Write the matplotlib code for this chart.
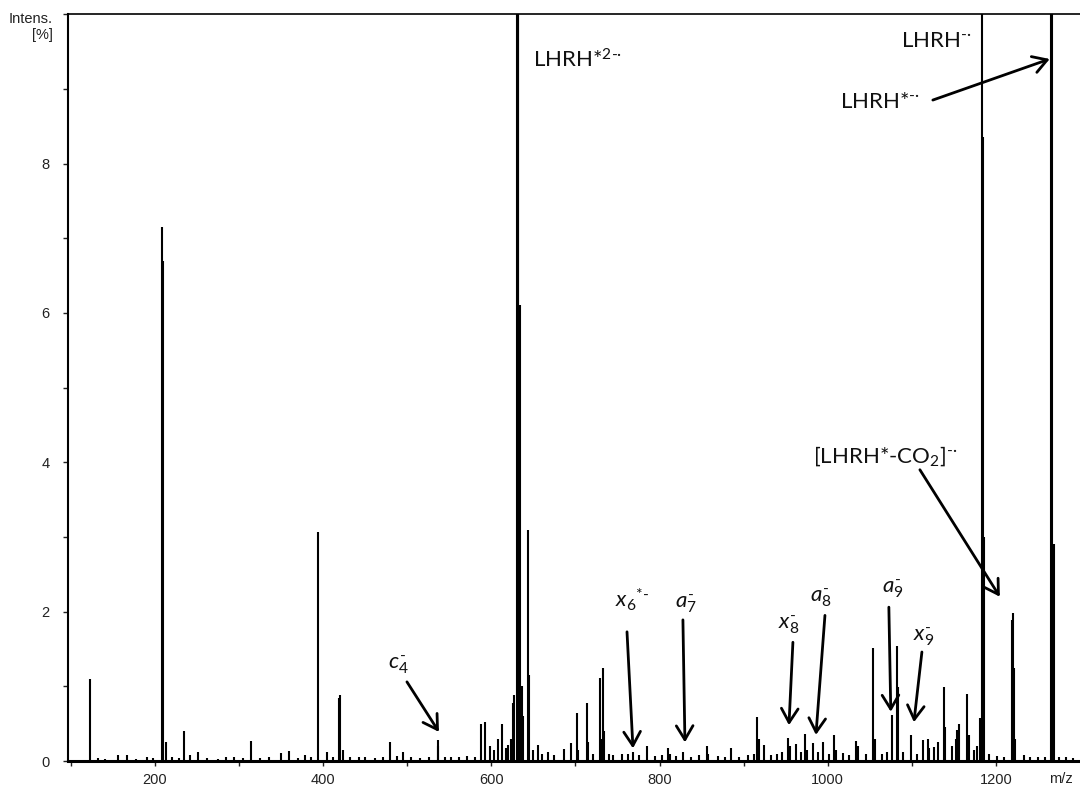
import matplotlib
matplotlib.use("Agg")
import matplotlib.pyplot as plt
from matplotlib.ticker import FixedLocator

plt.rcParams['font.family'] = ['Liberation Sans', 'DejaVu Sans']
plt.rcParams['mathtext.fontset'] = 'custom'
plt.rcParams['mathtext.rm'] = 'Lato'
plt.rcParams['mathtext.it'] = 'Lato:italic'
plt.rcParams['mathtext.sf'] = 'Lato'

# peak list: m/z and relative intensity [%]
mz = [123, 132, 141, 156, 167, 178, 190, 198, 208, 209, 212.5, 220, 228, 235, 242, 251.5,
      262, 275, 285, 294.5, 305, 314, 325, 336, 350, 359, 370, 378.5, 386, 393.6, 405,
      412, 419, 420.5, 423, 432, 443, 450, 462, 471, 480, 488, 495, 505, 515, 526, 536,
      537, 545, 552, 562, 571, 580, 588, 592, 598, 603, 608, 613, 617, 620, 623, 626,
      627.5, 631, 631.5, 632, 634.5, 636, 638, 643.5, 644.5, 650, 655, 660, 667, 675,
      686, 694.5, 702, 703, 713.5, 714.5, 721, 729, 730, 733, 734, 740, 745, 755, 762,
      768, 775, 785, 795, 803, 810, 812, 820, 828, 838, 847, 856, 858, 870, 878, 885,
      895, 905, 912, 916, 918, 924, 932, 940, 946, 953, 955, 962, 968, 973, 975, 983,
      988, 994, 1001, 1008, 1010, 1018, 1025, 1034, 1036, 1045, 1054, 1056, 1065, 1070,
      1076, 1082, 1084, 1090, 1099, 1106, 1113, 1119, 1121, 1126, 1131, 1138, 1140,
      1148, 1152, 1154, 1156, 1166, 1168, 1174, 1178, 1181, 1184, 1185, 1186, 1192,
      1201, 1210, 1219, 1220, 1222, 1223, 1234, 1240, 1250, 1258, 1266, 1267, 1269,
      1275, 1283, 1292]
intens = [1.1, 0.04, 0.03, 0.08, 0.08, 0.03, 0.05, 0.04, 7.15, 6.7, 0.25, 0.05, 0.04, 0.4, 0.08, 0.12,
          0.04, 0.03, 0.05, 0.05, 0.04, 0.27, 0.04, 0.05, 0.11, 0.13, 0.04, 0.08, 0.06, 3.07, 0.12,
          0.05, 0.85, 0.88, 0.15, 0.05, 0.06, 0.06, 0.04, 0.05, 0.25, 0.07, 0.12, 0.05, 0.04, 0.05, 0.2,
          0.28, 0.06, 0.05, 0.05, 0.07, 0.06, 0.5, 0.52, 0.2, 0.15, 0.3, 0.5, 0.18, 0.22, 0.3, 0.78,
          0.88, 100.0, 60.0, 20.0, 6.1, 1.0, 0.6, 3.1, 1.15, 0.15, 0.22, 0.1, 0.12, 0.08,
          0.16, 0.24, 0.64, 0.15, 0.78, 0.25, 0.1, 1.11, 0.3, 1.25, 0.4, 0.1, 0.08, 0.1, 0.09,
          0.12, 0.08, 0.2, 0.07, 0.08, 0.18, 0.1, 0.07, 0.12, 0.06, 0.08, 0.2, 0.1, 0.07, 0.06, 0.17,
          0.06, 0.08, 0.1, 0.59, 0.3, 0.22, 0.08, 0.1, 0.12, 0.31, 0.2, 0.23, 0.12, 0.36, 0.15, 0.24,
          0.12, 0.26, 0.1, 0.35, 0.15, 0.11, 0.08, 0.27, 0.2, 0.1, 1.52, 0.3, 0.1, 0.12,
          0.61, 1.54, 0.99, 0.12, 0.35, 0.1, 0.28, 0.3, 0.17, 0.19, 0.25, 0.99, 0.45,
          0.2, 0.3, 0.41, 0.5, 0.9, 0.35, 0.15, 0.2, 0.58, 60.0, 8.35, 3.0, 0.1,
          0.07, 0.06, 1.89, 1.98, 1.25, 0.3, 0.08, 0.05, 0.06, 0.05, 45.0, 25.0, 2.9,
          0.06, 0.05, 0.04]

# annotations: label, text anchor (left, baseline), arrow tail, arrow head
labels = [r"LHRH*$^{\text{2-·}}$", r"LHRH$^{\text{-·}}$", r"LHRH*$^{\text{-·}}$",
          r"[LHRH*-CO$_2$]$^{\text{-·}}$", r"$c_4^{\text{-}}$", r"$x_6{}^{\text{*-}}$",
          r"$a_7^{\text{-}}$", r"$x_8^{\text{-}}$", r"$a_8^{\text{-}}$", r"$a_9^{\text{-}}$",
          r"$x_9^{\text{-}}$"]
label_xy = [(649.5, 9.29), (None, 9.56), (1014.5, 8.74), (982.4, 4.0), (477, 1.245),
            (747, 2.05), (818, 2.05), (940.8, 1.78), (978.8, 2.13), (1064.5, 2.26), (1101.3, 1.62)]
arrow_from = [None, None, (1125, 8.85), (1109.6, 3.9), (499.6, 1.06), (761.3, 1.73),
              (827.8, 1.89), (958.6, 1.59), (996.7, 1.95), (1072.7, 2.06), (1112, 1.46)]
arrow_to = [None, None, (1264, 9.4), (1204.7, 2.2), (537.7, 0.39), (768.4, 0.17),
            (830.2, 0.25), (953.9, 0.48), (986, 0.35), (1075, 0.66), (1102.5, 0.52)]

fig = plt.figure(figsize=(10.8, 7.87), dpi=100)
ax = fig.add_axes([0.063, 0.033, 0.937, 0.949])

ax.vlines(mz, 0, intens, color='black', lw=1.5)

ax.set_xlim(96.6, 1300)
ax.set_ylim(0, 10)

ax.spines['right'].set_visible(False)
ax.spines['left'].set_linewidth(1.5)
ax.spines['bottom'].set_linewidth(2.2)
ax.spines['top'].set_linewidth(1.2)

ax.xaxis.set_major_locator(FixedLocator([200, 400, 600, 800, 1000, 1200]))
ax.xaxis.set_minor_locator(FixedLocator([100, 300, 500, 700, 900, 1100]))
ax.set_yticks([0, 2, 4, 6, 8, 10])
ax.set_yticklabels(['0', '2', '4', '6', '8', ''])
ax.yaxis.set_minor_locator(FixedLocator([1, 3, 5, 7, 9]))
ax.tick_params(which='both', direction='out', length=3.5, width=1, colors='#222222',
               labelsize=10.5)
ax.tick_params(axis='y', pad=10)
ax.tick_params(axis='x', pad=5)

fig.text(53 / 1080, 1 - 12 / 787, "Intens.\n[%]", ha='right', va='top',
         multialignment='right', fontsize=10.5, color='#222222')
fig.text(1061 / 1080, 1 - 772 / 787, "m/z", ha='center', va='top',
         fontsize=10.5, color='#222222')

for lab, pos, tail, head in zip(labels, label_xy, arrow_from, arrow_to):
    if pos[0] is None:
        ax.text(1171.5, pos[1], lab, ha='right', va='baseline', fontsize=16,
                family='Lato', color='#111111')
    else:
        ax.text(pos[0], pos[1], lab, ha='left', va='baseline', fontsize=16,
                family='Lato', color='#111111')
    if tail is not None:
        ax.annotate('', xy=head, xytext=tail,
                    arrowprops=dict(arrowstyle='->,head_length=0.5,head_width=0.3',
                                    lw=2, color='black', shrinkA=0, shrinkB=0,
                                    mutation_scale=20))

fig.savefig('out.png', dpi=100)
